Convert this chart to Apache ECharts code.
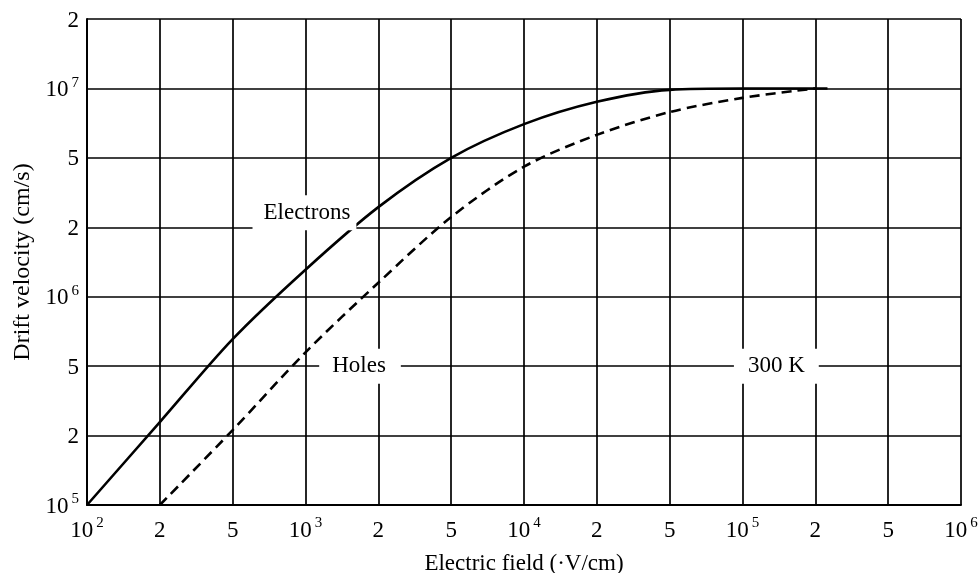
<!DOCTYPE html>
<html>
<head>
<meta charset="utf-8">
<script src="https://cdn.jsdelivr.net/npm/echarts@6/dist/echarts.min.js"></script>
<style>html,body{margin:0;padding:0;background:#fff}#c{width:979px;height:573px}</style>
</head>
<body>
<div id="c"></div>
<script>
// Tick labels (1-2-5 pseudo-log scales, equally spaced gridlines)
const xTickLabels = ['10^2','2','5','10^3','2','5','10^4','2','5','10^5','2','5','10^6'];
const yTickLabels = ['10^5','2','5','10^6','2','5','10^7','2'];

// Electrons: electric field (V/cm) and drift velocity (cm/s)
const electronsE = [100, 200, 500, 1000, 2000, 5000, 10000, 20000, 50000, 100000, 233000];
const electronsV = [1e5, 2.39e5, 6.55e5, 1.31e6, 2.61e6, 5e6, 7.0e6, 8.75e6, 9.86e6, 1.0e7, 1.0e7];

// Holes
const holesE = [200, 500, 1000, 2000, 5000, 10000, 20000, 50000, 100000, 200000];
const holesV = [1e5, 2.15e5, 5.74e5, 1.15e6, 2.29e6, 4.45e6, 6.29e6, 7.9e6, 9.1e6, 1.0e7];

const curveLabels = [
  {text: 'Electrons', E: 990, v: 2.42e6, pad: [6, 6, 6, 11]},
  {text: 'Holes', E: 1680, v: 5.0e5, pad: [6, 15, 6, 13]},
  {text: '300 K', E: 138000, v: 5.0e5, pad: [6, 14, 6, 14]}
];

// map a value onto the 1-2-5 equally spaced scale (one unit per gridline)
function toIdx(v, e0) {
  const d = Math.floor(Math.log10(v) + 1e-9);
  const m = v / Math.pow(10, d);
  let f;
  if (m < 2) f = Math.log(m) / Math.log(2);
  else if (m < 5) f = 1 + Math.log(m / 2) / Math.log(2.5);
  else f = 2 + Math.log(m / 5) / Math.log(2);
  return 3 * (d - e0) + f;
}
function fmt(lbl) {
  if (lbl.indexOf('^') >= 0) {
    const p = lbl.split('^');
    return '{b|' + p[0] + '}{s|' + p[1] + '}';
  }
  return '{b|' + lbl + '}';
}
const FONT = '"Liberation Serif", "DejaVu Serif", serif';
const rich = {
  b: {fontFamily: FONT, fontSize: 23, color: '#000', lineHeight: 26, verticalAlign: 'bottom'},
  s: {fontFamily: FONT, fontSize: 15, color: '#000', lineHeight: 14, verticalAlign: 'top', padding: [0, 0, 0, 3]}
};

const eData = electronsE.map((e, i) => [toIdx(e, 2), toIdx(electronsV[i], 5)]);
const hData = holesE.map((e, i) => [toIdx(e, 2), toIdx(holesV[i], 5)]);

const chart = echarts.init(document.getElementById('c'), null, {renderer: 'canvas'});
const lineStyleGrid = {color: '#000', width: 1.7};
chart.setOption({
  animation: false,
  backgroundColor: '#fff',
  grid: {left: 87, right: 18, top: 19, bottom: 68, containLabel: false, outerBoundsMode: 'none'},
  xAxis: {
    type: 'value', min: 0, max: 12, interval: 1,
    axisLine: {show: true, lineStyle: {color: '#000', width: 2}},
    axisTick: {show: false},
    splitLine: {show: true, lineStyle: lineStyleGrid},
    axisLabel: {margin: 11, formatter: v => fmt(xTickLabels[Math.round(v)] || ''), rich: rich},
    name: 'Electric field (·V/cm)', nameLocation: 'middle', nameGap: 59,
    nameTextStyle: {fontFamily: FONT, fontSize: 23, color: '#000', verticalAlign: 'middle'}
  },
  yAxis: {
    type: 'value', min: 0, max: 7, interval: 1,
    axisLine: {show: true, lineStyle: {color: '#000', width: 2}},
    axisTick: {show: false},
    splitLine: {show: true, lineStyle: lineStyleGrid},
    axisLabel: {margin: 8, formatter: v => fmt(yTickLabels[Math.round(v)] || ''), rich: rich},
    name: 'Drift velocity (cm/s)', nameLocation: 'middle', nameGap: 63, nameRotate: 90,
    nameTextStyle: {fontFamily: FONT, fontSize: 24, color: '#000', verticalAlign: 'middle'}
  },
  series: [
    {
      type: 'line', data: eData, smooth: 0.3, symbol: 'none',
      lineStyle: {color: '#000', width: 2.6},
      markPoint: {
        symbol: 'rect', symbolSize: 0,
        label: {show: true, position: 'inside', formatter: p => p.name,
          fontFamily: FONT, fontSize: 23, color: '#000', backgroundColor: '#fff'},
        data: curveLabels.map(l => ({name: l.text, coord: [toIdx(l.E, 2), toIdx(l.v, 5)],
          label: {padding: l.pad}}))
      }
    },
    {
      type: 'line', data: hData, smooth: 0.3, symbol: 'none',
      lineStyle: {color: '#000', width: 2.6, type: [10, 6]}
    }
  ]
});
</script>
</body>
</html>
